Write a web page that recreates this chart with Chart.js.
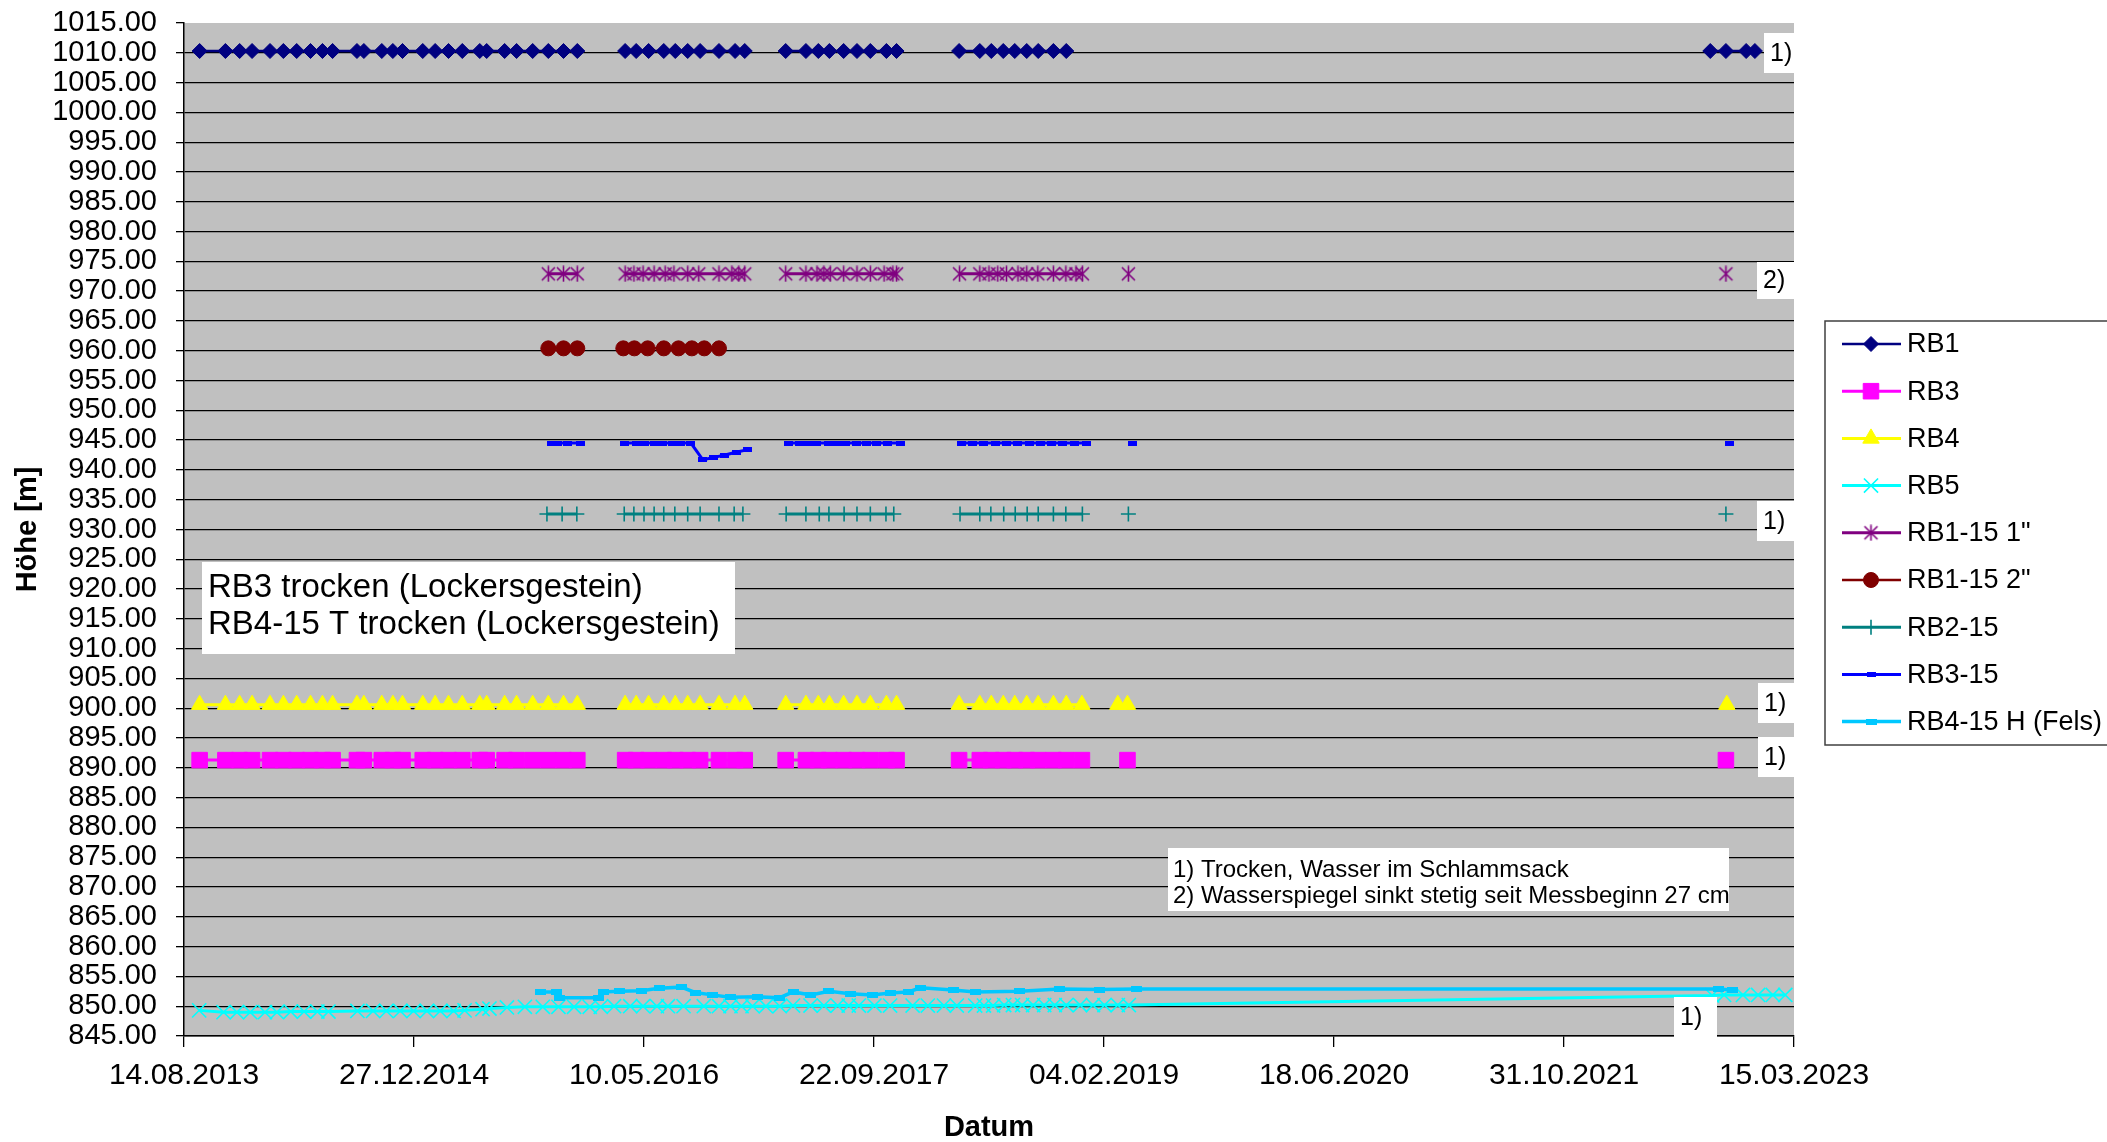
<!DOCTYPE html>
<html lang="de">
<head>
<meta charset="utf-8">
<title>Wasserspiegel RB</title>
<script src="https://cdn.jsdelivr.net/npm/chart.js@4.4.1/dist/chart.umd.min.js"></script>
<style>
  html, body { margin: 0; padding: 0; background: #fff; }
  #chart { display: block; width: 2107px; height: 1142px; }
</style>
</head>
<body>
<canvas id="chart" width="2107" height="1142"></canvas>
<script>
// Dates are Excel serial numbers (days since 30.12.1899), as in the source sheet.
// A null value is an empty cell -> gap in the line.
const FONT = '"Liberation Sans", Arial, sans-serif';

const xMin = 41500, xMax = 45000, xStep = 500;   // 14.08.2013 .. 15.03.2023
const yMin = 845, yMax = 1015, yStep = 5;

const seriesNames = ['RB1', 'RB3', 'RB4', 'RB5', 'RB1-15 1"', 'RB1-15 2"', 'RB2-15', 'RB3-15', 'RB4-15 H (Fels)'];

const rb1Dates = [41534, 41590, 41621, 41648, 41687, 41716, 41745, 41775, 41801, 41823, 41876, 41891, 41930, 41954,
  41975, 42019, 42046, 42075, 42105, 42143, 42158, 42197, 42223, 42258, 42292, 42325, 42355,
  42400,
  42459, 42483, 42510, 42543, 42568, 42595, 42622, 42663, 42698, 42719,
  42760,
  42808, 42852, 42879, 42903, 42934, 42963, 42992, 43027, 43049,
  43120,
  43185, 43230, 43255, 43281, 43306, 43332, 43357, 43390, 43418,
  44000,
  44818, 44852, 44896, 44915];
const rb1Values = [1010.3, 1010.3, 1010.3, 1010.3, 1010.3, 1010.3, 1010.3, 1010.3, 1010.3, 1010.3, 1010.3, 1010.3, 1010.3, 1010.3,
  1010.3, 1010.3, 1010.3, 1010.3, 1010.3, 1010.3, 1010.3, 1010.3, 1010.3, 1010.3, 1010.3, 1010.3, 1010.3,
  null,
  1010.3, 1010.3, 1010.3, 1010.3, 1010.3, 1010.3, 1010.3, 1010.3, 1010.3, 1010.3,
  null,
  1010.3, 1010.3, 1010.3, 1010.3, 1010.3, 1010.3, 1010.3, 1010.3, 1010.3,
  null,
  1010.3, 1010.3, 1010.3, 1010.3, 1010.3, 1010.3, 1010.3, 1010.3, 1010.3,
  null,
  1010.3, 1010.3, 1010.3, 1010.3];

const rb3Dates = [41534, 41590, 41621, 41648, 41687, 41716, 41745, 41775, 41801, 41823, 41876, 41891, 41930, 41954,
  41975, 42019, 42046, 42075, 42105, 42143, 42158, 42197, 42223, 42258, 42292, 42325, 42355,
  42400,
  42459, 42483, 42510, 42543, 42568, 42595, 42622, 42663, 42698, 42719,
  42760,
  42808, 42852, 42879, 42903, 42934, 42963, 42992, 43027, 43049,
  43120,
  43185, 43230, 43255, 43281, 43306, 43332, 43357, 43390, 43418, 43452,
  43500,
  43551,
  44000,
  44852];
const rb3Values = [891.3, 891.3, 891.3, 891.3, 891.3, 891.3, 891.3, 891.3, 891.3, 891.3, 891.3, 891.3, 891.3, 891.3,
  891.3, 891.3, 891.3, 891.3, 891.3, 891.3, 891.3, 891.3, 891.3, 891.3, 891.3, 891.3, 891.3,
  null,
  891.3, 891.3, 891.3, 891.3, 891.3, 891.3, 891.3, 891.3, 891.3, 891.3,
  null,
  891.3, 891.3, 891.3, 891.3, 891.3, 891.3, 891.3, 891.3, 891.3,
  null,
  891.3, 891.3, 891.3, 891.3, 891.3, 891.3, 891.3, 891.3, 891.3, 891.3,
  null,
  891.3,
  null,
  891.3];

const rb4Dates = [41534, 41590, 41621, 41648, 41687, 41716, 41745, 41775, 41801, 41823, 41876, 41891, 41930, 41954,
  41975, 42019, 42046, 42075, 42105, 42143, 42158, 42197, 42223, 42258, 42292, 42325, 42355,
  42400,
  42459, 42483, 42510, 42543, 42568, 42595, 42622, 42663, 42698, 42719,
  42760,
  42808, 42852, 42879, 42903, 42934, 42963, 42992, 43027, 43049,
  43120,
  43185, 43230, 43255, 43281, 43306, 43332, 43357, 43390, 43418, 43452,
  43490,
  43530, 43551,
  44000,
  44854];
const rb4Values = [900.6, 900.6, 900.6, 900.6, 900.6, 900.6, 900.6, 900.6, 900.6, 900.6, 900.6, 900.6, 900.6, 900.6,
  900.6, 900.6, 900.6, 900.6, 900.6, 900.6, 900.6, 900.6, 900.6, 900.6, 900.6, 900.6, 900.6,
  null,
  900.6, 900.6, 900.6, 900.6, 900.6, 900.6, 900.6, 900.6, 900.6, 900.6,
  null,
  900.6, 900.6, 900.6, 900.6, 900.6, 900.6, 900.6, 900.6, 900.6,
  null,
  900.6, 900.6, 900.6, 900.6, 900.6, 900.6, 900.6, 900.6, 900.6, 900.6,
  null,
  900.6, 900.6,
  null,
  900.6];

const rb5Dates = [41533, 41586, 41615, 41644, 41676, 41702, 41732, 41761, 41790, 41814,
  41877, 41911, 41940, 41970, 41999, 42028, 42057, 42086, 42110, 42149, 42164,
  42202, 42241, 42280, 42314, 42348, 42382, 42406, 42435, 42470, 42498, 42528, 42552, 42586,
  42630, 42663, 42688, 42712, 42736, 42765, 42795, 42824, 42862, 42891, 42921, 42945,
  42967, 43001, 43035, 43084, 43117, 43152, 43180, 43220, 43239, 43259, 43283, 43302, 43322,
  43346, 43370, 43393, 43418, 43448, 43476, 43501, 43530, 43554,
  44822, 44848, 44889, 44922, 44954, 44981];
const rb5Values = [849.3, 849.0, 849.0, 849.0, 849.0, 849.0, 849.1, 849.1, 849.1, 849.1,
  849.2, 849.2, 849.2, 849.2, 849.2, 849.2, 849.2, 849.2, 849.3, 849.5, 849.6,
  849.8, 849.9, 849.9, 849.9, 849.9, 849.9, 849.9, 850.0, 850.0, 850.0, 850.0, 850.0, 850.0,
  850.0, 850.0, 850.0, 850.0, 850.0, 850.0, 850.0, 850.1, 850.1, 850.1, 850.1, 850.1,
  850.1, 850.1, 850.1, 850.1, 850.1, 850.1, 850.1, 850.1, 850.1, 850.1, 850.2, 850.2, 850.2,
  850.2, 850.2, 850.2, 850.2, 850.2, 850.2, 850.2, 850.2, 850.2,
  851.8, 851.9, 851.9, 851.9, 851.9, 851.9];

const rb115aDates = [42292, 42325, 42355,
  42400,
  42459, 42478, 42498, 42522, 42546, 42565, 42595, 42619, 42663, 42691, 42706, 42719,
  42760,
  42808, 42852, 42876, 42891, 42905, 42934, 42963, 42992, 43022, 43041, 43049,
  43120,
  43186, 43230, 43250, 43269, 43288, 43313, 43332, 43356, 43390, 43417, 43439, 43453,
  43500,
  43553,
  44000,
  44852];
const rb115aValues = [972.9, 972.9, 972.9,
  null,
  972.9, 972.9, 972.9, 972.9, 972.9, 972.9, 972.9, 972.9, 972.9, 972.9, 972.9, 972.9,
  null,
  972.9, 972.9, 972.9, 972.9, 972.9, 972.9, 972.9, 972.9, 972.9, 972.9, 972.9,
  null,
  972.9, 972.9, 972.9, 972.9, 972.9, 972.9, 972.9, 972.9, 972.9, 972.9, 972.9, 972.9,
  null,
  972.9,
  null,
  972.9];

const rb115bDates = [42292, 42325, 42355,
  42400,
  42455, 42479, 42508, 42543, 42575, 42604, 42631, 42663];
const rb115bValues = [960.4, 960.4, 960.4,
  null,
  960.4, 960.4, 960.4, 960.4, 960.4, 960.4, 960.4, 960.4];

const rb215Dates = [42289, 42322, 42354,
  42400,
  42457, 42478, 42500, 42522, 42543, 42567, 42595, 42622, 42663, 42696, 42715,
  42760,
  42809, 42852, 42881, 42902, 42935, 42963, 42992, 43026, 43043,
  43120,
  43187, 43230, 43254, 43282, 43307, 43333, 43357, 43390, 43417, 43453,
  43500,
  43553,
  44000,
  44852];
const rb215Values = [932.6, 932.6, 932.6,
  null,
  932.6, 932.6, 932.6, 932.6, 932.6, 932.6, 932.6, 932.6, 932.6, 932.6, 932.6,
  null,
  932.6, 932.6, 932.6, 932.6, 932.6, 932.6, 932.6, 932.6, 932.6,
  null,
  932.6, 932.6, 932.6, 932.6, 932.6, 932.6, 932.6, 932.6, 932.6, 932.6,
  null,
  932.6,
  null,
  932.6];

const rb315Dates = [42298, 42313, 42333, 42362,
  42410,
  42457, 42483, 42502, 42522, 42541, 42561, 42580, 42602, 42628, 42652, 42676, 42702, 42726,
  42770,
  42815, 42837, 42857, 42876, 42900, 42920, 42939, 42963, 42983, 43006, 43030, 43057,
  43120,
  43191, 43215, 43239, 43265, 43289, 43313, 43337, 43361, 43385, 43409, 43435, 43463,
  43510,
  43561,
  44000,
  44860];
const rb315Values = [944.5, 944.5, 944.5, 944.5,
  null,
  944.5, 944.5, 944.5, 944.5, 944.5, 944.5, 944.5, 944.5, 941.7, 942.1, 942.5, 943.0, 943.4,
  null,
  944.5, 944.5, 944.5, 944.5, 944.5, 944.5, 944.5, 944.5, 944.5, 944.5, 944.5, 944.5,
  null,
  944.5, 944.5, 944.5, 944.5, 944.5, 944.5, 944.5, 944.5, 944.5, 944.5, 944.5, 944.5,
  null,
  944.5,
  null,
  944.5];

const rb415hDates = [42275, 42309, 42317, 42400, 42411, 42446, 42494, 42533, 42581, 42611,
  42648, 42687, 42746, 42794, 42824, 42863, 42902, 42948, 42996, 43035,
  43074, 43102, 43172, 43220, 43317, 43404, 43491, 43570, 44835, 44867];
const rb415hValues = [852.4, 852.4, 851.4, 851.4, 852.4, 852.5, 852.6, 853.0, 853.2, 852.3,
  851.9, 851.5, 851.6, 851.4, 852.4, 851.9, 852.5, 852.1, 851.9, 852.2,
  852.4, 853.1, 852.7, 852.4, 852.5, 852.9, 852.8, 852.9, 852.9, 852.7];

// --- helpers ---
function toPoints(dates, values) {
  return dates.map((d, i) => ({ x: d, y: values[i] }));
}

function serialToDate(serial) {
  const d = new Date(Date.UTC(1899, 11, 30) + serial * 86400000);
  const dd = String(d.getUTCDate()).padStart(2, '0');
  const mm = String(d.getUTCMonth() + 1).padStart(2, '0');
  return dd + '.' + mm + '.' + d.getUTCFullYear();
}

// Excel style asterisk (x with a vertical bar)
function makeAsterisk(color) {
  const c = document.createElement('canvas');
  c.width = 17; c.height = 17;
  const g = c.getContext('2d');
  g.strokeStyle = color;
  g.lineWidth = 1.6;
  g.beginPath();
  g.moveTo(2, 2); g.lineTo(15, 15);
  g.moveTo(15, 2); g.lineTo(2, 15);
  g.moveTo(8.5, 0.5); g.lineTo(8.5, 16.5);
  g.stroke();
  return c;
}

function makeBar(color, w, h) {
  const c = document.createElement('canvas');
  c.width = w; c.height = h;
  const g = c.getContext('2d');
  g.fillStyle = color;
  g.fillRect(0, 0, w, h);
  return c;
}

const asteriskMarker = makeAsterisk('#800080');
const rb315Marker = makeBar('#0000FF', 9, 5);
const rb415hMarker = makeBar('#00C8FF', 11, 6);

function series(label, dates, values, color, style, radius, lineWidth, pointBorder) {
  return {
    label: label,
    data: toPoints(dates, values),
    showLine: true,
    spanGaps: false,
    borderColor: color,
    backgroundColor: color,
    borderWidth: lineWidth,
    pointStyle: style,
    pointRadius: radius,
    pointHoverRadius: radius,
    pointBackgroundColor: color,
    pointBorderColor: color,
    pointBorderWidth: pointBorder,
    tension: 0
  };
}

const datasets = [
  series(seriesNames[0], rb1Dates, rb1Values, '#000080', 'rectRot', 7.5, 2.5, 1),
  series(seriesNames[1], rb3Dates, rb3Values, '#FF00FF', 'rect', 11, 3, 1),
  series(seriesNames[2], rb4Dates, rb4Values, '#FFFF00', 'triangle', 9.5, 3, 1),
  series(seriesNames[3], rb5Dates, rb5Values, '#00FFFF', 'crossRot', 10, 3, 1.6),
  series(seriesNames[4], rb115aDates, rb115aValues, '#800080', asteriskMarker, 8, 3, 1),
  series(seriesNames[5], rb115bDates, rb115bValues, '#800000', 'circle', 7.5, 2.5, 1),
  series(seriesNames[6], rb215Dates, rb215Values, '#008080', 'cross', 7.5, 3, 1.6),
  series(seriesNames[7], rb315Dates, rb315Values, '#0000FF', rb315Marker, 4, 3, 1),
  series(seriesNames[8], rb415hDates, rb415hValues, '#00C8FF', rb415hMarker, 5, 3.5, 1)
];
// later series on top, like in the spreadsheet
datasets.forEach((ds, i) => { ds.order = datasets.length - i; });

// --- plugins ---
const plotBackground = {
  id: 'plotBackground',
  beforeDraw(chart) {
    const { ctx, chartArea } = chart;
    ctx.save();
    ctx.fillStyle = '#FFFFFF';
    ctx.fillRect(0, 0, chart.width, chart.height);
    ctx.fillStyle = '#C0C0C0';
    ctx.fillRect(chartArea.left, chartArea.top, chartArea.right - chartArea.left, chartArea.bottom - chartArea.top);
    ctx.restore();
  }
};

const notes = {
  id: 'notes',
  afterDraw(chart) {
    const ctx = chart.ctx;
    ctx.save();
    ctx.textBaseline = 'middle';
    ctx.textAlign = 'left';

    function box(x, y, w, h) {
      ctx.fillStyle = '#FFFFFF';
      ctx.fillRect(x, y, w, h);
    }
    function text(str, x, y, size) {
      ctx.fillStyle = '#000000';
      ctx.font = size + 'px ' + FONT;
      ctx.fillText(str, x, y);
    }

    box(202, 562, 533, 92);
    text('RB3 trocken (Lockersgestein)', 208, 588, 33);
    text('RB4-15 T trocken (Lockersgestein)', 208, 625, 33);

    box(1168, 848, 561, 63);
    text('1) Trocken, Wasser im Schlammsack', 1173, 870, 24);
    text('2) Wasserspiegel sinkt stetig seit Messbeginn 27 cm', 1173, 896, 24);

    const marks = [
      ['1)', 1764, 33, 31, 40],
      ['2)', 1757, 262, 37, 37],
      ['1)', 1757, 501, 37, 40],
      ['1)', 1758, 683, 37, 40],
      ['1)', 1758, 737, 37, 40],
      ['1)', 1674, 997, 43, 40]
    ];
    marks.forEach(m => {
      box(m[1], m[2], m[3], m[4]);
      text(m[0], m[1] + 6, m[2] + m[4] / 2 + 1, 25);
    });
    ctx.restore();
  }
};

const boxLegend = {
  id: 'boxLegend',
  afterDraw(chart) {
    const ctx = chart.ctx;
    const left = 1825, top = 321, bottom = 745;
    const firstRow = 344, rowGap = 47.2;
    ctx.save();
    ctx.strokeStyle = '#404040';
    ctx.lineWidth = 1.5;
    ctx.strokeRect(left, top, chart.width + 20 - left, bottom - top);

    chart.data.datasets.forEach((ds, i) => {
      const y = firstRow + i * rowGap;
      ctx.strokeStyle = ds.borderColor;
      ctx.lineWidth = ds.borderWidth;
      ctx.beginPath();
      ctx.moveTo(1842, y);
      ctx.lineTo(1901, y);
      ctx.stroke();

      ctx.fillStyle = ds.pointBackgroundColor;
      ctx.strokeStyle = ds.pointBorderColor;
      ctx.lineWidth = ds.pointBorderWidth;
      if (ds.pointStyle instanceof HTMLCanvasElement) {
        const img = ds.pointStyle;
        ctx.drawImage(img, 1871 - img.width / 2, y - img.height / 2);
      } else {
        Chart.helpers.drawPoint(ctx, {
          pointStyle: ds.pointStyle,
          radius: ds.pointRadius,
          borderWidth: ds.pointBorderWidth,
          rotation: 0
        }, 1871, y);
      }

      ctx.fillStyle = '#000000';
      ctx.font = '27px ' + FONT;
      ctx.textBaseline = 'middle';
      ctx.textAlign = 'left';
      ctx.fillText(ds.label, 1907, y + 1);
    });
    ctx.restore();
  }
};

// --- chart ---
new Chart(document.getElementById('chart'), {
  type: 'scatter',
  data: { datasets: datasets },
  plugins: [plotBackground, notes, boxLegend],
  options: {
    responsive: false,
    animation: false,
    devicePixelRatio: 1,
    layout: { padding: { left: 0, top: 23, right: 313, bottom: 0 } },
    plugins: {
      legend: { display: false },
      tooltip: { enabled: false }
    },
    scales: {
      x: {
        type: 'linear',
        min: xMin,
        max: xMax,
        afterFit: (scale) => { scale.height = 106; },
        ticks: {
          stepSize: xStep,
          autoSkip: false,
          maxRotation: 0,
          padding: 11,
          color: '#000',
          font: { family: FONT, size: 30 },
          callback: (value) => serialToDate(value)
        },
        grid: { drawOnChartArea: false, drawTicks: true, tickLength: 11, color: '#000', lineWidth: 1.3 },
        border: { display: true, color: '#000', width: 1.5 },
        title: {
          display: true,
          text: 'Datum',
          color: '#000',
          font: { family: FONT, size: 29, weight: 'bold', lineHeight: 1 },
          padding: { top: 0, bottom: 0 }
        }
      },
      y: {
        min: yMin,
        max: yMax,
        afterFit: (scale) => {
          scale.width = 184;
          // keep the plot top where the layout padding puts it
          scale.paddingTop = 0;
          scale.paddingBottom = 0;
        },
        ticks: {
          stepSize: yStep,
          autoSkip: false,
          padding: 19,
          color: '#000',
          font: { family: FONT, size: 29 },
          callback: (value) => value.toFixed(2)
        },
        grid: {
          drawTicks: true,
          tickLength: 8,
          tickColor: '#000',
          lineWidth: 1.3,
          color: (c) => (c.tick && c.tick.value === yMax) ? 'rgba(0,0,0,0)' : '#000'
        },
        border: { display: true, color: '#000', width: 1.5 },
        title: {
          display: true,
          text: 'Höhe [m]',
          color: '#000',
          font: { family: FONT, size: 29, weight: 'bold', lineHeight: 1 },
          padding: { top: 13, bottom: 0 }
        }
      }
    }
  }
});
</script>
</body>
</html>
